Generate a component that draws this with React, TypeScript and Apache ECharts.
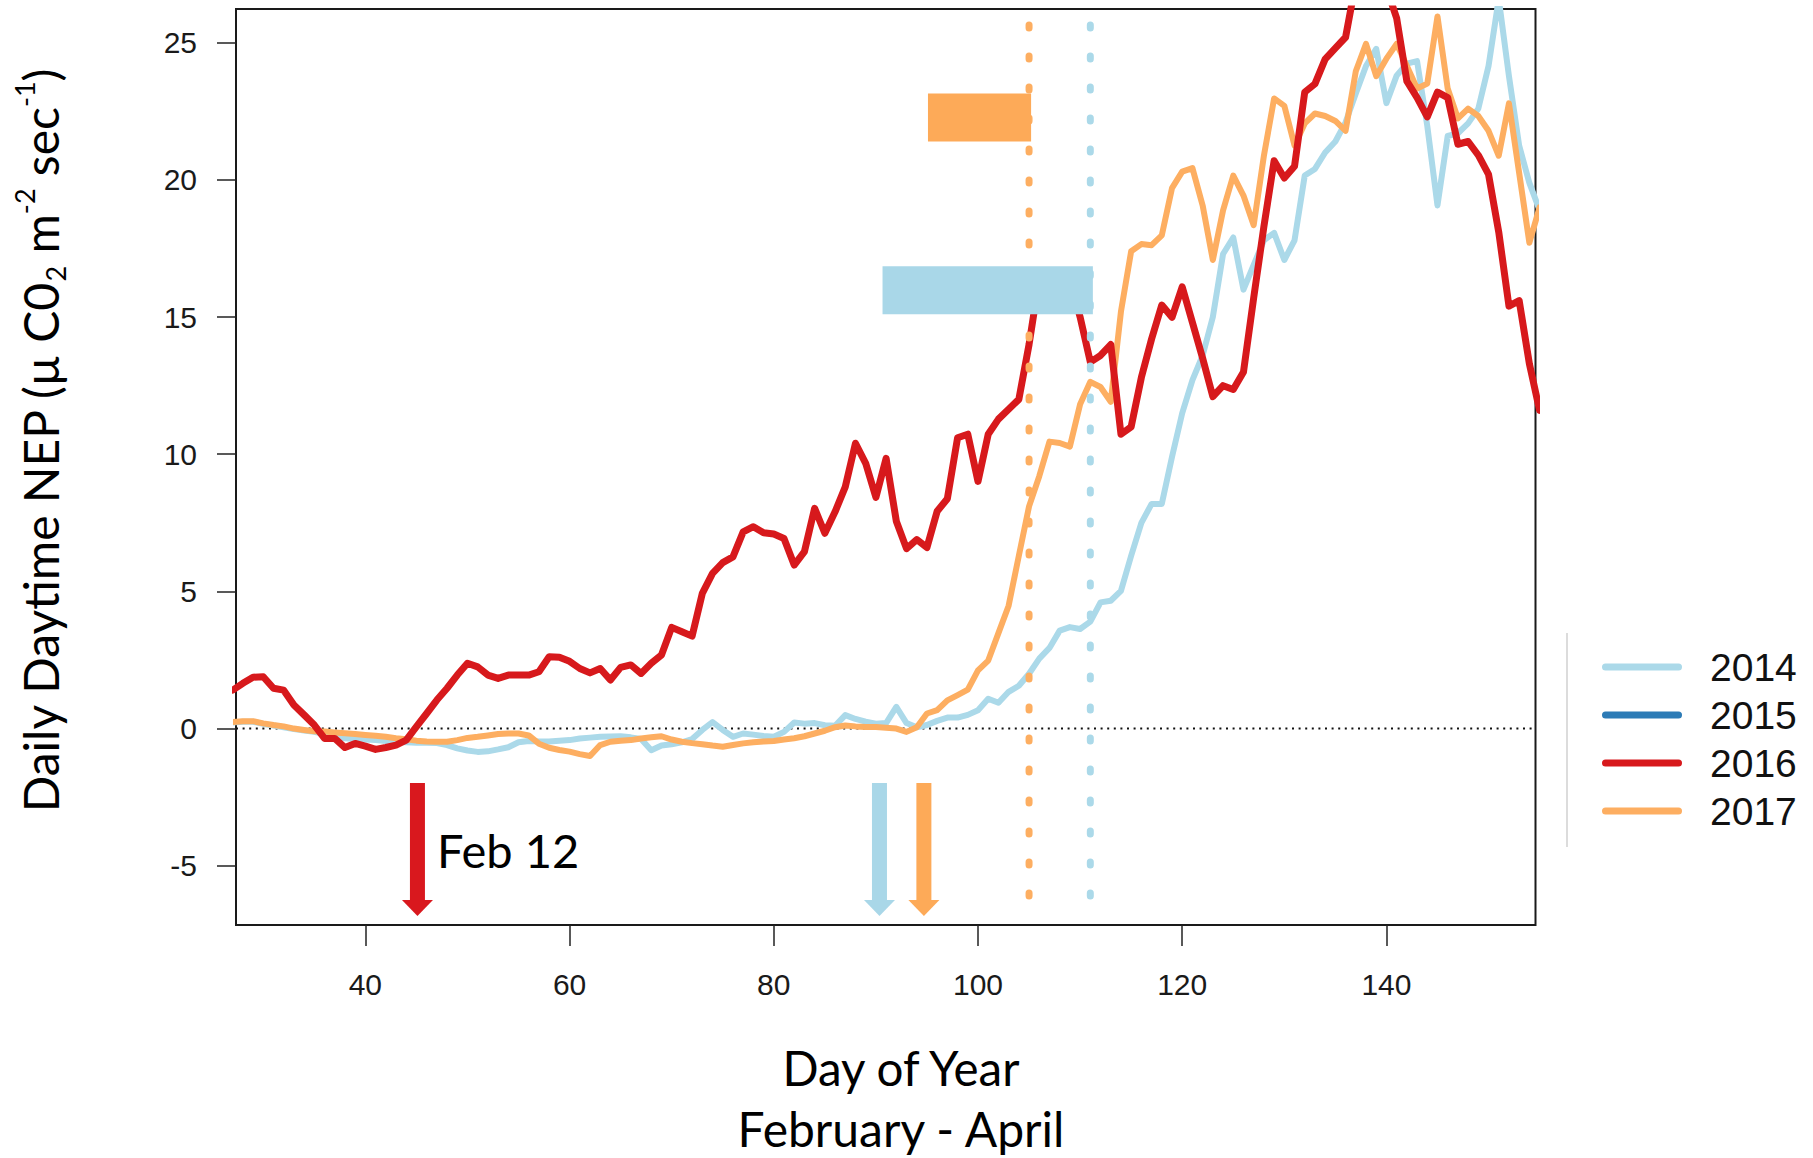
import React, { useEffect, useRef } from "react";
import * as echarts from "echarts";

// ---------------- data ----------------
const FIRST_DAY = 27; // day of year of the first value in each series

const NEP_2014 = [
  0.22, 0.25, 0.25, 0.17, 0.11, 0.05, -0.02, -0.07, -0.12, -0.2,
  -0.3, -0.35, -0.38, -0.4, -0.42, -0.45, -0.48, -0.5, -0.52, -0.52,
  -0.53, -0.6, -0.72, -0.8, -0.85, -0.83, -0.76, -0.68, -0.5, -0.45,
  -0.47, -0.47, -0.44, -0.42, -0.36, -0.33, -0.3, -0.29, -0.28, -0.32,
  -0.38, -0.79, -0.62, -0.57, -0.5, -0.38, -0.05, 0.24, -0.05, -0.3,
  -0.18, -0.22, -0.27, -0.3, -0.12, 0.22, 0.18, 0.2, 0.12, 0.1,
  0.49, 0.35, 0.25, 0.18, 0.2, 0.79, 0.2, 0.05, 0.13, 0.28,
  0.4, 0.4, 0.5, 0.67, 1.09, 0.94, 1.34, 1.56, 2.0, 2.55,
  2.94, 3.57, 3.7, 3.63, 3.9, 4.6, 4.66, 5.02, 6.3, 7.5,
  8.19, 8.19, 9.9, 11.5, 12.7, 13.6, 15.0, 17.3, 17.9, 16.0,
  16.9, 17.8, 18.07, 17.08, 17.8, 20.16, 20.4, 21.0, 21.4, 22.1,
  23.15, 24.15, 24.78, 22.8, 23.8, 24.24, 24.33, 21.97, 19.07, 21.6,
  21.7, 22.06, 22.6, 24.15, 26.6, 23.78, 21.25, 19.89, 18.9,
];

const NEP_2015: number[] = [];

const NEP_2016 = [
  1.4, 1.65, 1.87, 1.89, 1.47, 1.4, 0.86, 0.5, 0.13, -0.36,
  -0.36, -0.69, -0.54, -0.64, -0.76, -0.69, -0.6, -0.42, 0.07, 0.55,
  1.04, 1.47, 1.95, 2.38, 2.25, 1.95, 1.83, 1.95, 1.95, 1.95,
  2.07, 2.62, 2.6, 2.45, 2.19, 2.03, 2.19, 1.77, 2.23, 2.32,
  2.01, 2.38, 2.68, 3.69, 3.53, 3.37, 4.93, 5.66, 6.05, 6.26,
  7.17, 7.36, 7.14, 7.09, 6.93, 5.96, 6.45, 8.03, 7.12, 7.9,
  8.81, 10.4, 9.67, 8.43, 9.85, 7.56, 6.56, 6.89, 6.6, 7.92,
  8.38, 10.6, 10.73, 9.01, 10.73, 11.28, 11.64, 12.0, 14.0, 16.4,
  16.6, 16.5, 16.4, 15.0, 13.36, 13.6, 14.0, 10.73, 11.0, 12.8,
  14.2, 15.44, 14.99, 16.1, 14.8, 13.5, 12.1, 12.5, 12.36, 13.0,
  15.7, 18.3, 20.7, 20.07, 20.5, 23.2, 23.5, 24.4, 24.8, 25.2,
  27.2, 28.3, 28.0, 27.0, 25.9, 23.6, 23.0, 22.3, 23.2, 23.0,
  21.3, 21.4, 20.9, 20.2, 18.1, 15.4, 15.6, 13.3, 11.6,
];

const NEP_2017 = [
  0.24, 0.27, 0.27, 0.19, 0.13, 0.08, 0.0, -0.05, -0.1, -0.11,
  -0.14, -0.17, -0.2, -0.23, -0.26, -0.3, -0.35, -0.39, -0.44, -0.47,
  -0.48, -0.48, -0.42, -0.34, -0.3, -0.25, -0.2, -0.18, -0.18, -0.25,
  -0.55, -0.7, -0.78, -0.84, -0.93, -1.0, -0.6, -0.48, -0.44, -0.42,
  -0.36, -0.32, -0.28, -0.4, -0.48, -0.53, -0.57, -0.62, -0.66, -0.6,
  -0.54, -0.5, -0.47, -0.45, -0.4, -0.35, -0.28, -0.18, -0.08, 0.05,
  0.11, 0.08, 0.06, 0.06, 0.03, 0.0, -0.12, 0.05, 0.55, 0.67,
  1.03, 1.22, 1.42, 2.12, 2.48, 3.48, 4.48, 6.3, 8.1, 9.2,
  10.46, 10.41, 10.28, 11.82, 12.64, 12.45, 11.91, 15.2, 17.4, 17.66,
  17.62, 17.98, 19.7, 20.3, 20.43, 19.07, 17.08, 18.89, 20.16, 19.43,
  18.35, 20.88, 22.97, 22.7, 21.25, 22.06, 22.42, 22.33, 22.15, 21.79,
  23.96, 24.96, 23.78, 24.42, 24.96, 24.15, 23.33, 23.51, 25.96, 23.33,
  22.24, 22.6, 22.33, 21.79, 20.88, 22.79, 20.25, 17.71, 19.0,
];

const YEARS = ["2014", "2015", "2016", "2017"];
const X_TICKS = [40, 60, 80, 100, 120, 140];
const Y_TICKS = [-5, 0, 5, 10, 15, 20, 25];
const X_MIN = 27.33;
const X_MAX = 154.6;
const Y_MIN = -7.16;
const Y_MAX = 26.23;

// onset arrows: day of year, year
const ARROW_DAYS = [45.1, 90.35, 94.7];
const ARROW_YEARS = ["2016", "2014", "2017"];
const ARROW_TOP = -1.98;
const ARROW_TIP = -6.83;

// dotted vertical lines: day of year, year
const VLINE_DAYS = [105, 111];
const VLINE_YEARS = ["2017", "2014"];

// horizontal bars: [start day, end day, low, high]
const BAR_RANGES = [
  [90.65, 111.25, 15.1, 16.85],
  [95.1, 105.2, 21.4, 23.15],
];
const BAR_YEARS = ["2014", "2017"];

// ---------------- styles ----------------
const COLORS: Record<string, string> = {
  "2014": "#abd9e9",
  "2015": "#2c7bb6",
  "2016": "#d7191c",
  "2017": "#fdae61",
};
const MARK_COLORS: Record<string, string> = {
  "2014": "#a9d7e8",
  "2016": "#d9181e",
  "2017": "#fdaa58",
};

const TITLE_FONT = "Lato, 'Open Sans', sans-serif";
const TICK_FONT = "'Liberation Sans', Arial, sans-serif";

const toPairs = (vals: number[]) => vals.map((v, i) => [FIRST_DAY + i, v]);

export default function App() {
  const ref = useRef<HTMLDivElement>(null);

  useEffect(() => {
    if (!ref.current) return;
    const chart = echarts.init(ref.current, null, {
      renderer: "svg",
      width: 1813,
      height: 1158,
    });

    const lineSeries = (name: string, vals: number[], z: number, width: number) => ({
      type: "line",
      name,
      z,
      data: toPairs(vals),
      symbol: "none",
      showSymbol: false,
      silent: true,
      color: COLORS[name],
      itemStyle: { color: COLORS[name] },
      lineStyle: { color: COLORS[name], width, join: "round", cap: "round" },
      clip: true,
    });

    const option: any = {
      animation: false,
      backgroundColor: "#ffffff",
      grid: {
        left: 236,
        top: 9,
        width: 1299.5,
        height: 916,
        show: true,
        borderColor: "#1a1a1a",
        borderWidth: 2,
        backgroundColor: "transparent",
      },
      xAxis: {
        type: "value",
        min: X_MIN,
        max: X_MAX,
        axisLine: { show: false, onZero: false },
        splitLine: { show: false },
        axisTick: {
          show: true,
          length: 21,
          customValues: X_TICKS,
          lineStyle: { color: "#222", width: 1.5 },
        },
        axisLabel: {
          customValues: X_TICKS,
          margin: 44,
          fontFamily: TICK_FONT,
          fontSize: 30,
          color: "#1a1a1a",
        },
      },
      yAxis: {
        type: "value",
        min: Y_MIN,
        max: Y_MAX,
        axisLine: { show: false, onZero: false },
        splitLine: { show: false },
        axisTick: {
          show: true,
          length: 19,
          customValues: Y_TICKS,
          lineStyle: { color: "#222", width: 1.5 },
        },
        axisLabel: {
          customValues: Y_TICKS,
          margin: 39,
          fontFamily: TICK_FONT,
          fontSize: 30,
          color: "#1a1a1a",
        },
      },
      legend: {
        data: YEARS,
        orient: "vertical",
        left: 1597,
        top: 642,
        itemWidth: 80,
        itemHeight: 7,
        itemGap: 8,
        selectedMode: false,
        icon: "path://M3.5,0L76.5,0A3.5,3.5,0,0,1,76.5,7L3.5,7A3.5,3.5,0,0,1,3.5,0Z",
        itemStyle: { borderWidth: 0 },
        lineStyle: { width: 0 },
        textStyle: {
          fontFamily: TICK_FONT,
          fontSize: 39,
          lineHeight: 40,
          color: "#111",
          padding: [0, 0, 0, 23],
        },
      },
      graphic: [
        {
          type: "line",
          silent: true,
          shape: { x1: 1567, y1: 633, x2: 1567, y2: 847 },
          style: { stroke: "#d0d0d0", lineWidth: 1.5 },
        },
        {
          type: "text",
          silent: true,
          x: 901,
          y: 1067,
          style: {
            text: "Day of Year",
            fontFamily: TITLE_FONT,
            fontSize: 47.5,
            fill: "#000",
            align: "center",
            verticalAlign: "middle",
          },
        },
        {
          type: "text",
          silent: true,
          x: 901,
          y: 1128,
          style: {
            text: "February - April",
            fontFamily: TITLE_FONT,
            fontSize: 48,
            fill: "#000",
            align: "center",
            verticalAlign: "middle",
          },
        },
        {
          type: "text",
          silent: true,
          x: 437,
          y: 850,
          z: 100,
          style: {
            text: "Feb 12",
            fontFamily: TITLE_FONT,
            fontSize: 47,
            fill: "#000",
            align: "left",
            verticalAlign: "middle",
          },
        },
        {
          type: "text",
          silent: true,
          x: 40,
          y: 441,
          rotation: Math.PI / 2,
          style: {
            text: "{m|Daily Daytime NEP (µ C0}{sub|2}{m| m}{sup|-2}{m| sec}{sup|-1}{m|)}",
            fontFamily: TITLE_FONT,
            fontSize: 48,
            fill: "#000",
            align: "center",
            verticalAlign: "middle",
            rich: {
              m: { fontFamily: TITLE_FONT, fontSize: 48, lineHeight: 58, fill: "#000" },
              sup: {
                fontFamily: TITLE_FONT,
                fontSize: 27,
                lineHeight: 40,
                verticalAlign: "top",
                fill: "#000",
              },
              sub: {
                fontFamily: TITLE_FONT,
                fontSize: 27,
                lineHeight: 22,
                verticalAlign: "bottom",
                fill: "#000",
              },
            },
          },
        },
      ],
      series: [
        {
          type: "custom",
          name: "zero",
          z: 1,
          silent: true,
          data: [[X_MIN, X_MAX, 0]],
          encode: { x: [0, 1], y: 2 },
          renderItem: (_p: any, api: any) => {
            const a = api.coord([api.value(0), api.value(2)]);
            const b = api.coord([api.value(1), api.value(2)]);
            return {
              type: "line",
              shape: { x1: a[0], y1: a[1], x2: b[0], y2: b[1] },
              style: { stroke: "#111", lineWidth: 2, lineDash: [2, 4.6] },
            };
          },
        },
        lineSeries("2014", NEP_2014, 2, 6),
        lineSeries("2015", NEP_2015, 2, 6),
        lineSeries("2017", NEP_2017, 3, 6),
        lineSeries("2016", NEP_2016, 4, 7),
        {
          type: "custom",
          name: "vlines",
          z: 5,
          silent: true,
          data: VLINE_DAYS.map((d) => [d, Y_MIN, Y_MAX]),
          encode: { x: 0, y: [1, 2] },
          renderItem: (p: any, api: any) => {
            const a = api.coord([api.value(0), api.value(2)]);
            const b = api.coord([api.value(0), api.value(1)]);
            return {
              type: "line",
              shape: { x1: a[0], y1: a[1] + 16, x2: b[0], y2: b[1] - 4 },
              style: {
                stroke: COLORS[VLINE_YEARS[p.dataIndex]],
                lineWidth: 7,
                lineDash: [3, 28],
                lineCap: "round",
              },
            };
          },
        },
        {
          type: "custom",
          name: "bars",
          z: 6,
          silent: true,
          data: BAR_RANGES,
          encode: { x: [0, 1], y: [2, 3] },
          renderItem: (p: any, api: any) => {
            const a = api.coord([api.value(0), api.value(3)]);
            const b = api.coord([api.value(1), api.value(2)]);
            return {
              type: "rect",
              shape: { x: a[0], y: a[1], width: b[0] - a[0], height: b[1] - a[1] },
              style: { fill: MARK_COLORS[BAR_YEARS[p.dataIndex]] },
            };
          },
        },
        {
          type: "custom",
          name: "arrows",
          z: 6,
          silent: true,
          data: ARROW_DAYS.map((d) => [d, ARROW_TOP, ARROW_TIP]),
          encode: { x: 0, y: [1, 2] },
          renderItem: (p: any, api: any) => {
            const top = api.coord([api.value(0), api.value(1)]);
            const tip = api.coord([api.value(0), api.value(2)]);
            const fill = MARK_COLORS[ARROW_YEARS[p.dataIndex]];
            const headLen = 16;
            const shaftW = 15;
            const headW = 31;
            return {
              type: "group",
              children: [
                {
                  type: "rect",
                  shape: {
                    x: top[0] - shaftW / 2,
                    y: top[1],
                    width: shaftW,
                    height: tip[1] - headLen - top[1] + 1,
                  },
                  style: { fill },
                },
                {
                  type: "polygon",
                  shape: {
                    points: [
                      [top[0] - headW / 2, tip[1] - headLen],
                      [top[0] + headW / 2, tip[1] - headLen],
                      [tip[0], tip[1]],
                    ],
                  },
                  style: { fill },
                },
              ],
            };
          },
        },
      ],
    };

    chart.setOption(option);
    return () => {
      chart.dispose();
    };
  }, []);

  return (
    <div
      ref={ref}
      style={{
        position: "fixed",
        left: 0,
        top: 0,
        width: "1813px",
        height: "1158px",
        background: "#fff",
      }}
    />
  );
}
